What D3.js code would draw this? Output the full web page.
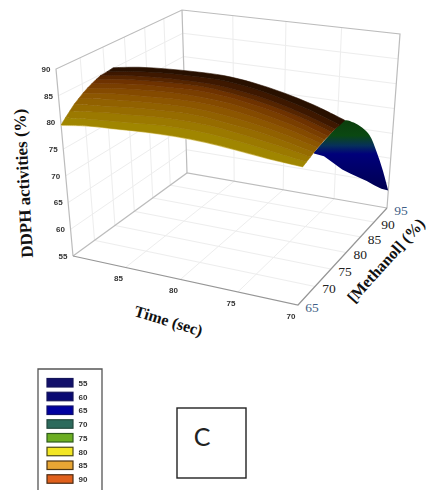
<!DOCTYPE html>
<html lang="en">
	<head>
		<meta charset="utf-8">
		<title>D3: DDPH surface</title>
		<script type="text/javascript" src="https://d3js.org/d3.v7.min.js"></script>
		<style type="text/css">
			html, body {
				margin: 0;
				background: #fff;
			}
			.tick-small {
				font-family: "Liberation Sans";
				font-size: 8px;
				font-weight: bold;
				fill: #333;
				text-anchor: middle;
				filter: blur(0.4px);
			}
			.tick-meth {
				font-family: "Liberation Serif";
				font-size: 13.5px;
				fill: #222;
				text-anchor: middle;
			}
			.axis-title {
				font-family: "Liberation Serif";
				font-weight: bold;
				fill: #111;
				text-anchor: middle;
			}
		</style>
	</head>
	<body>
		<div id="chart"></div>
		<script type="text/javascript">
			//Axis ticks
			const timeTicks = [85, 80, 75, 70];
			const methanolTicks = [65, 70, 75, 80, 85, 90, 95];
			const activityTicks = [90, 85, 80, 75, 70, 65, 60, 55];

			//Surface: one row per methanol level, one value per time
			const surfaceTimes = [90, 87.5, 85, 82.5, 80, 77.5, 75, 72.5, 70];
			const surfaceMethanol = [65, 66, 67, 68, 69, 70, 71, 72, 73, 74, 75.5, 77];
			const surfaceValues = [
				[79.5, 80.2, 80.5, 80.8, 80.9, 80.7, 80.2, 79.6, 79.2],
				[80.4, 80.9, 81.3, 81.7, 81.9, 81.7, 81.1, 80.3, 79.5],
				[81.2, 81.8, 82.2, 82.6, 82.7, 82.5, 81.8, 80.9, 79.8],
				[82.0, 82.5, 83.0, 83.3, 83.5, 83.1, 82.4, 81.4, 80.1],
				[82.6, 83.3, 83.7, 84.0, 84.1, 83.7, 82.9, 81.8, 80.4],
				[83.2, 83.9, 84.3, 84.6, 84.7, 84.3, 83.4, 82.2, 80.6],
				[83.7, 84.4, 84.9, 85.2, 85.2, 84.8, 83.8, 82.5, 80.8],
				[84.1, 84.9, 85.4, 85.6, 85.7, 85.2, 84.2, 82.8, 80.9],
				[84.5, 85.3, 85.7, 86.0, 86.0, 85.4, 84.4, 83.0, 81.1],
				[84.8, 85.6, 86.0, 86.2, 86.2, 85.6, 84.6, 83.1, 81.2],
				[84.9, 85.7, 86.2, 86.4, 86.4, 85.8, 84.7, 83.2, 81.2],
				[85.1, 85.9, 86.3, 86.5, 86.5, 85.9, 84.8, 83.3, 81.3]
			];

			//Blue and green end of the surface, seen past the last time
			const tailMethanol = [68, 71, 74, 77, 80, 83, 86, 89, 92, 95];
			const tailUpper = [80.1, 80.7, 81.2, 81.3, 79.4, 77.0, 74.0, 69.4, 64.2, 58.5];
			const tailLower = [79.9, 77.8, 75.0, 72.2, 69.8, 67.5, 65.2, 62.8, 60.5, 58.5];

			//Legend
			const legendLevels = [55, 60, 65, 70, 75, 80, 85, 90];
			const legendFills = ["#12106a", "#0a0a72", "#0000a0", "#2c6a5c", "#6cae22", "#f2e624", "#e8a634", "#e0601c"];
			const legendEdges = ["#14145a", "#14145a", "#10106a", "#24483c", "#2e5a1c", "#4c4a14", "#4c3414", "#4a2c14"];

			const width = 429;
			const height = 491;

			const svg = d3.select("#chart")
				.append("svg")
				.attr("width", width)
				.attr("height", height)
				.style("display", "block");

			const timeScale = d3.scaleLinear().domain([90, 70]).range([0, 1]);
			const methanolScale = d3.scaleLinear().domain([65, 95]).range([0, 1]);
			const activityScale = d3.scaleLinear().domain([55, 90]).range([0, 1]);

			//Box corners on screen: left, front, right, back
			const floorQuad = [[73, 256], [298, 305], [387, 208], [187, 173]];
			const topQuad = [[56, 69], [305, 105], [400, 34], [182, 10]];

			//Maps the unit square onto a four sided shape in perspective
			function quadMap(q) {
				const [[x0, y0], [x1, y1], [x2, y2], [x3, y3]] = q;
				const dx1 = x1 - x2, dx2 = x3 - x2, sx = x0 - x1 + x2 - x3;
				const dy1 = y1 - y2, dy2 = y3 - y2, sy = y0 - y1 + y2 - y3;
				const det = dx1 * dy2 - dx2 * dy1;
				const g = (sx * dy2 - dx2 * sy) / det;
				const h = (dx1 * sy - sx * dy1) / det;
				const a = x1 - x0 + g * x1, b = x3 - x0 + h * x3;
				const d = y1 - y0 + g * y1, e = y3 - y0 + h * y3;
				return function(u, v) {
					const w = g * u + h * v + 1;
					return [(a * u + b * v + x0) / w, (d * u + e * v + y0) / w];
				};
			}

			const floorMap = quadMap(floorQuad);
			const topMap = quadMap(topQuad);

			function project(time, methanol, activity) {
				const u = timeScale(time), v = methanolScale(methanol), w = activityScale(activity);
				const f = floorMap(u, v), t = topMap(u, v);
				return [f[0] + (t[0] - f[0]) * w, f[1] + (t[1] - f[1]) * w];
			}

			const line = d3.line();
			const smooth = d3.line().curve(d3.curveCatmullRom);

			//Grid on the walls and the floor
			const grid = svg.append("g")
				.attr("fill", "none")
				.attr("stroke", "#ededed")
				.attr("stroke-width", 1);
			const gridTimes = [85, 80, 75];
			const gridMethanol = methanolTicks.slice(1, -1);
			const gridActivity = activityTicks.slice(1, -1);

			gridTimes.forEach(function(t) {
				grid.append("path").attr("d", line([project(t, 65, 55), project(t, 95, 55), project(t, 95, 90)]));
			});
			gridMethanol.forEach(function(m) {
				grid.append("path").attr("d", line([project(70, m, 55), project(90, m, 55), project(90, m, 90)]));
			});
			gridActivity.forEach(function(a) {
				grid.append("path").attr("d", line([project(90, 65, a), project(90, 95, a), project(70, 95, a)]));
			});

			//Box frame
			const frame = svg.append("g")
				.attr("fill", "none")
				.attr("stroke", "#bcbcbc")
				.attr("stroke-width", 1.2);
			frame.append("path").attr("d", line([project(90, 65, 55), project(90, 65, 90), project(90, 95, 90), project(70, 95, 90), project(70, 95, 55)]));
			frame.append("path").attr("d", line([project(90, 95, 90), project(90, 95, 55)]));
			frame.append("path").attr("d", line([project(90, 65, 55), project(90, 95, 55), project(70, 95, 55)]));
			frame.append("path")
				.attr("stroke", "#969696")
				.attr("d", line([project(90, 65, 55), project(70, 65, 55), project(70, 95, 55)]));

			//Tail of the surface
			const tailGradient = svg.append("defs")
				.append("linearGradient")
				.attr("id", "tail-fill")
				.attr("x1", 0).attr("y1", 0)
				.attr("x2", 0).attr("y2", 1);
			tailGradient.selectAll("stop")
				.data([[0, "#0c3e0c"], [0.22, "#0a4812"], [0.36, "#06305a"], [0.48, "#00007a"], [1, "#000050"]])
				.join("stop")
				.attr("offset", d => d[0])
				.attr("stop-color", d => d[1]);

			const tailTop = tailMethanol.map((m, i) => project(70, m, tailUpper[i]));
			const tailBottom = tailMethanol.map((m, i) => project(70, m, tailLower[i])).reverse();
			svg.append("path")
				.attr("fill", "url(#tail-fill)")
				.attr("d", smooth(tailTop) + "L" + line(tailBottom).slice(1) + "Z");

			//Surface strips, olive at the front edge and dark along the ridge
			const stripColor = d3.scaleLinear()
				.domain([0, 0.2, 0.45, 0.7, 0.88, 1])
				.range(["#a08600", "#966c00", "#8a5000", "#6e3200", "#421a00", "#281000"]);

			const rows = surfaceValues.map(function(row, i) {
				return row.map((v, j) => project(surfaceTimes[j], surfaceMethanol[i], v));
			});

			//Pale rim under the front edge
			svg.append("path")
				.attr("fill", "none")
				.attr("stroke", "#f3e6b0")
				.attr("stroke-width", 1.8)
				.attr("d", smooth(rows[0]));

			d3.range(rows.length - 1).forEach(function(i) {
				const back = rows[i + 1].slice().reverse();
				const c = stripColor(i / (rows.length - 2));
				svg.append("path")
					.attr("fill", c)
					.attr("stroke", c)
					.attr("stroke-width", 0.6)
					.attr("d", smooth(rows[i]) + "L" + smooth(back).slice(1) + "Z");
			});

			//Tick labels
			activityTicks.forEach(function(a) {
				const p = project(90, 65, a);
				svg.append("text").attr("class", "tick-small")
					.attr("x", p[0] - 10).attr("y", p[1]).attr("dy", "0.35em")
					.text(a);
			});
			timeTicks.forEach(function(t) {
				const p = project(t, 65, 55);
				svg.append("text").attr("class", "tick-small")
					.attr("x", p[0] - 7).attr("y", p[1] + 11).attr("dy", "0.35em")
					.text(t);
			});
			methanolTicks.forEach(function(m) {
				const p = project(70, m, 55);
				svg.append("text").attr("class", "tick-meth")
					.attr("x", p[0] + 14).attr("y", p[1] + 2).attr("dy", "0.35em")
					.style("fill", m === 65 || m === 95 ? "#3f5f86" : null)
					.text(m);
			});

			//Axis titles
			svg.append("text").attr("class", "axis-title")
				.attr("transform", "translate(29,183) rotate(-93)")
				.style("font-size", "17px")
				.text("DDPH activities (%)");
			svg.append("text").attr("class", "axis-title")
				.attr("transform", "translate(167,326) rotate(17)")
				.style("font-size", "16px")
				.text("Time (sec)");
			svg.append("text").attr("class", "axis-title")
				.attr("transform", "translate(390,264) rotate(-48)")
				.style("font-size", "16px")
				.text("[Methanol]  (%)");

			//Legend
			const legend = svg.append("g");
			const legendY = d3.scaleBand().domain(legendLevels).range([376, 486]);

			legend.append("path")
				.attr("fill", "none")
				.attr("stroke", "#555")
				.attr("stroke-width", 1.3)
				.attr("d", line([[38, 490], [38, 369], [102, 369], [102, 490]]));
			legend.selectAll("rect")
				.data(legendLevels)
				.join("rect")
				.attr("x", 47)
				.attr("y", d => legendY(d) + 2.5)
				.attr("width", 26)
				.attr("height", 8.5)
				.attr("fill", (d, i) => legendFills[i])
				.attr("stroke", (d, i) => legendEdges[i])
				.attr("stroke-width", 1.2);
			legend.selectAll("text")
				.data(legendLevels)
				.join("text")
				.attr("class", "tick-small")
				.attr("x", 83)
				.attr("y", d => legendY(d) + 7)
				.attr("dy", "0.35em")
				.text(d => d);

			//Panel letter
			svg.append("rect")
				.attr("x", 177).attr("y", 408)
				.attr("width", 69).attr("height", 70)
				.attr("fill", "none")
				.attr("stroke", "#222")
				.attr("stroke-width", 1.4);
			svg.append("text")
				.attr("x", 202).attr("y", 437)
				.attr("dy", "0.35em")
				.attr("text-anchor", "middle")
				.style("font-family", "Lato")
				.style("font-size", "25px")
				.style("fill", "#222")
				.text("C");
		</script>
	</body>
</html>
